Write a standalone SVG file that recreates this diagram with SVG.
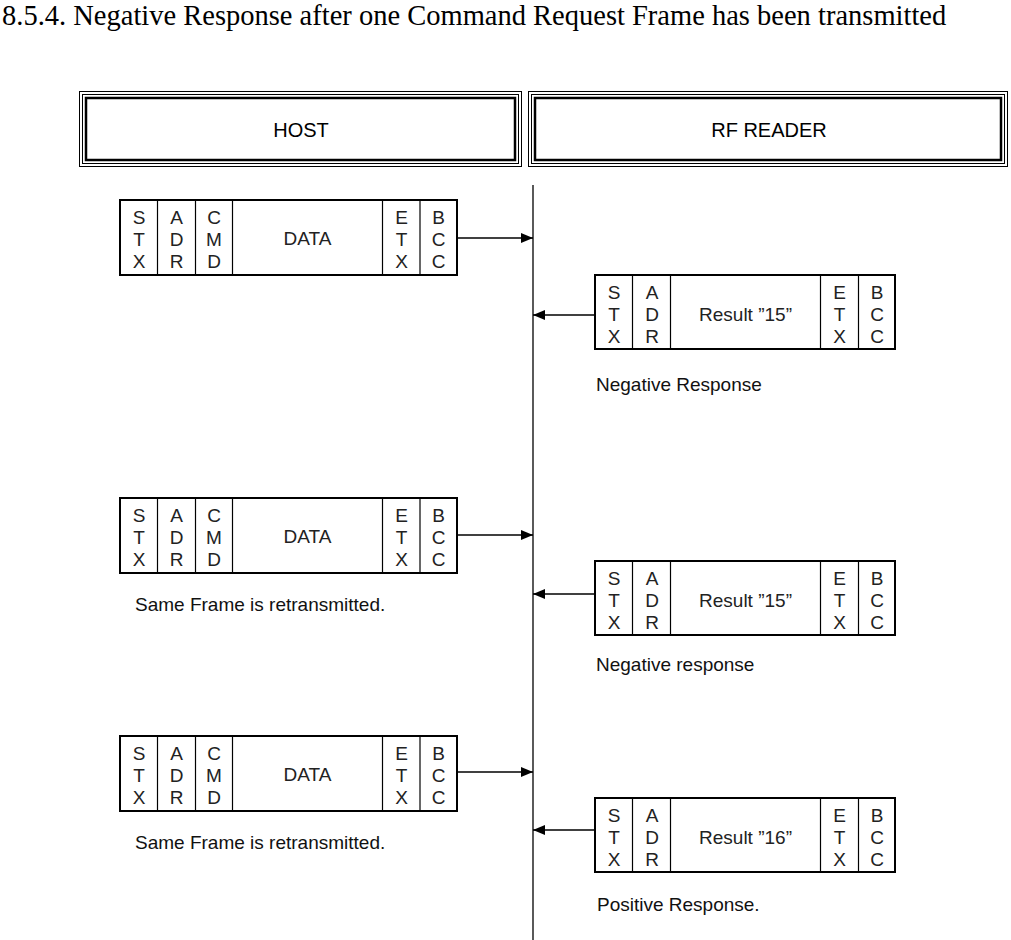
<svg xmlns="http://www.w3.org/2000/svg" width="1011" height="940" viewBox="0 0 1011 940">
<defs>
<marker id="ah" markerWidth="12" markerHeight="10" refX="12" refY="5" orient="auto" markerUnits="userSpaceOnUse">
<path d="M0,0 L12,5 L0,10 Z" fill="#000"/>
</marker>
<style>
.title{font-family:"Liberation Serif","Times New Roman",serif;font-size:28.5px;fill:#000}
.hdr{font-family:"Liberation Sans",Arial,sans-serif;font-size:20px;fill:#000;text-anchor:middle}
.c{font-family:"Liberation Sans",Arial,sans-serif;font-size:19px;fill:#222;text-anchor:middle}
.lbl{font-family:"Liberation Sans",Arial,sans-serif;font-size:19px;fill:#111}
.box{fill:#fff;stroke:#000;stroke-width:2}
.div{stroke:#000;stroke-width:1.2}
.conn{stroke:#000;stroke-width:1.3;fill:none}
.thin{fill:none;stroke:#000;stroke-width:1}
.thick{fill:none;stroke:#000;stroke-width:2.5}
</style>
</defs>
<rect width="1011" height="940" fill="#fff"/>
<text class="title" x="2" y="25">8.5.4. Negative Response after one Command Request Frame has been transmitted</text>

<g id="host">
<rect class="thin" x="79.5" y="91.5" width="442" height="75"/>
<rect class="thin" x="82.5" y="94.5" width="436" height="69"/>
<rect class="thick" x="86" y="98" width="429" height="62"/>
<text class="hdr" x="301" y="137">HOST</text>
</g>
<g id="rfreader">
<rect class="thin" x="528.5" y="91.5" width="479" height="75"/>
<rect class="thin" x="531.5" y="94.5" width="473" height="69"/>
<rect class="thick" x="535" y="98" width="466" height="62"/>
<text class="hdr" x="769" y="137">RF READER</text>
</g>

<g id="connectors">
<line class="conn" x1="533" y1="185" x2="533" y2="940"/>
<line class="conn" x1="457" y1="238" x2="533" y2="238" marker-end="url(#ah)"/>
<line class="conn" x1="595" y1="315" x2="533" y2="315" marker-end="url(#ah)"/>
<line class="conn" x1="457" y1="535" x2="533" y2="535" marker-end="url(#ah)"/>
<line class="conn" x1="595" y1="594" x2="533" y2="594" marker-end="url(#ah)"/>
<line class="conn" x1="457" y1="772" x2="533" y2="772" marker-end="url(#ah)"/>
<line class="conn" x1="595" y1="830" x2="533" y2="830" marker-end="url(#ah)"/>
</g>

<g id="hostframe1" transform="translate(0,200)">
<rect class="box" x="120" y="0" width="337" height="75"/>
<line class="div" x1="157.5" y1="0" x2="157.5" y2="75"/>
<line class="div" x1="195.5" y1="0" x2="195.5" y2="75"/>
<line class="div" x1="232.5" y1="0" x2="232.5" y2="75"/>
<line class="div" x1="382.5" y1="0" x2="382.5" y2="75"/>
<line class="div" x1="420" y1="0" x2="420" y2="75"/>
<text class="c" x="139" y="24">S<tspan x="139" dy="22">T</tspan><tspan x="139" dy="22">X</tspan></text>
<text class="c" x="176.5" y="24">A<tspan x="176.5" dy="22">D</tspan><tspan x="176.5" dy="22">R</tspan></text>
<text class="c" x="214" y="24">C<tspan x="214" dy="22">M</tspan><tspan x="214" dy="22">D</tspan></text>
<text class="c" x="307.5" y="45">DATA</text>
<text class="c" x="401.5" y="24">E<tspan x="401.5" dy="22">T</tspan><tspan x="401.5" dy="22">X</tspan></text>
<text class="c" x="438.5" y="24">B<tspan x="438.5" dy="22">C</tspan><tspan x="438.5" dy="22">C</tspan></text>
</g>

<g id="readerframe1" transform="translate(0,275)">
<rect class="box" x="595" y="0" width="300" height="74"/>
<line class="div" x1="632.5" y1="0" x2="632.5" y2="74"/>
<line class="div" x1="670.5" y1="0" x2="670.5" y2="74"/>
<line class="div" x1="820.5" y1="0" x2="820.5" y2="74"/>
<line class="div" x1="858.5" y1="0" x2="858.5" y2="74"/>
<text class="c" x="614" y="24">S<tspan x="614" dy="22">T</tspan><tspan x="614" dy="22">X</tspan></text>
<text class="c" x="652" y="24">A<tspan x="652" dy="22">D</tspan><tspan x="652" dy="22">R</tspan></text>
<text class="c" x="745.5" y="46">Result ”15”</text>
<text class="c" x="839.5" y="24">E<tspan x="839.5" dy="22">T</tspan><tspan x="839.5" dy="22">X</tspan></text>
<text class="c" x="877" y="24">B<tspan x="877" dy="22">C</tspan><tspan x="877" dy="22">C</tspan></text>
</g>
<g id="label1"><text class="lbl" x="596" y="391">Negative Response</text></g>

<g id="hostframe2" transform="translate(0,498)">
<rect class="box" x="120" y="0" width="337" height="75"/>
<line class="div" x1="157.5" y1="0" x2="157.5" y2="75"/>
<line class="div" x1="195.5" y1="0" x2="195.5" y2="75"/>
<line class="div" x1="232.5" y1="0" x2="232.5" y2="75"/>
<line class="div" x1="382.5" y1="0" x2="382.5" y2="75"/>
<line class="div" x1="420" y1="0" x2="420" y2="75"/>
<text class="c" x="139" y="24">S<tspan x="139" dy="22">T</tspan><tspan x="139" dy="22">X</tspan></text>
<text class="c" x="176.5" y="24">A<tspan x="176.5" dy="22">D</tspan><tspan x="176.5" dy="22">R</tspan></text>
<text class="c" x="214" y="24">C<tspan x="214" dy="22">M</tspan><tspan x="214" dy="22">D</tspan></text>
<text class="c" x="307.5" y="45">DATA</text>
<text class="c" x="401.5" y="24">E<tspan x="401.5" dy="22">T</tspan><tspan x="401.5" dy="22">X</tspan></text>
<text class="c" x="438.5" y="24">B<tspan x="438.5" dy="22">C</tspan><tspan x="438.5" dy="22">C</tspan></text>
</g>
<g id="label2"><text class="lbl" x="135" y="611">Same Frame is retransmitted.</text></g>

<g id="readerframe2" transform="translate(0,561)">
<rect class="box" x="595" y="0" width="300" height="74"/>
<line class="div" x1="632.5" y1="0" x2="632.5" y2="74"/>
<line class="div" x1="670.5" y1="0" x2="670.5" y2="74"/>
<line class="div" x1="820.5" y1="0" x2="820.5" y2="74"/>
<line class="div" x1="858.5" y1="0" x2="858.5" y2="74"/>
<text class="c" x="614" y="24">S<tspan x="614" dy="22">T</tspan><tspan x="614" dy="22">X</tspan></text>
<text class="c" x="652" y="24">A<tspan x="652" dy="22">D</tspan><tspan x="652" dy="22">R</tspan></text>
<text class="c" x="745.5" y="46">Result ”15”</text>
<text class="c" x="839.5" y="24">E<tspan x="839.5" dy="22">T</tspan><tspan x="839.5" dy="22">X</tspan></text>
<text class="c" x="877" y="24">B<tspan x="877" dy="22">C</tspan><tspan x="877" dy="22">C</tspan></text>
</g>
<g id="label3"><text class="lbl" x="596" y="671">Negative response</text></g>

<g id="hostframe3" transform="translate(0,736)">
<rect class="box" x="120" y="0" width="337" height="75"/>
<line class="div" x1="157.5" y1="0" x2="157.5" y2="75"/>
<line class="div" x1="195.5" y1="0" x2="195.5" y2="75"/>
<line class="div" x1="232.5" y1="0" x2="232.5" y2="75"/>
<line class="div" x1="382.5" y1="0" x2="382.5" y2="75"/>
<line class="div" x1="420" y1="0" x2="420" y2="75"/>
<text class="c" x="139" y="24">S<tspan x="139" dy="22">T</tspan><tspan x="139" dy="22">X</tspan></text>
<text class="c" x="176.5" y="24">A<tspan x="176.5" dy="22">D</tspan><tspan x="176.5" dy="22">R</tspan></text>
<text class="c" x="214" y="24">C<tspan x="214" dy="22">M</tspan><tspan x="214" dy="22">D</tspan></text>
<text class="c" x="307.5" y="45">DATA</text>
<text class="c" x="401.5" y="24">E<tspan x="401.5" dy="22">T</tspan><tspan x="401.5" dy="22">X</tspan></text>
<text class="c" x="438.5" y="24">B<tspan x="438.5" dy="22">C</tspan><tspan x="438.5" dy="22">C</tspan></text>
</g>
<g id="label4"><text class="lbl" x="135" y="849">Same Frame is retransmitted.</text></g>

<g id="readerframe3" transform="translate(0,798)">
<rect class="box" x="595" y="0" width="300" height="74"/>
<line class="div" x1="632.5" y1="0" x2="632.5" y2="74"/>
<line class="div" x1="670.5" y1="0" x2="670.5" y2="74"/>
<line class="div" x1="820.5" y1="0" x2="820.5" y2="74"/>
<line class="div" x1="858.5" y1="0" x2="858.5" y2="74"/>
<text class="c" x="614" y="24">S<tspan x="614" dy="22">T</tspan><tspan x="614" dy="22">X</tspan></text>
<text class="c" x="652" y="24">A<tspan x="652" dy="22">D</tspan><tspan x="652" dy="22">R</tspan></text>
<text class="c" x="745.5" y="46">Result ”16”</text>
<text class="c" x="839.5" y="24">E<tspan x="839.5" dy="22">T</tspan><tspan x="839.5" dy="22">X</tspan></text>
<text class="c" x="877" y="24">B<tspan x="877" dy="22">C</tspan><tspan x="877" dy="22">C</tspan></text>
</g>
<g id="label5"><text class="lbl" x="597" y="911">Positive Response.</text></g>
</svg>
